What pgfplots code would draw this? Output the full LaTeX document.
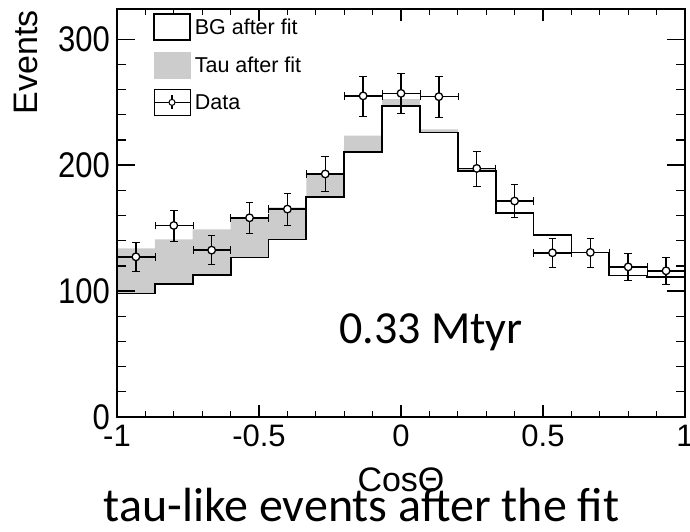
\documentclass[border=0pt]{standalone}
\usepackage{pgfplots}
\pgfplotsset{compat=1.18}
\usepackage{fontspec}
\setmainfont{Liberation Sans}
\newfontfamily\carlito{Carlito}
\definecolor{tauGray}{RGB}{204,204,204}
\begin{document}
\begin{tikzpicture}
\path[use as bounding box] (-117pt,-115pt) rectangle (573pt,417pt);
\begin{axis}[
  at={(0pt,0pt)}, anchor=south west,
  scale only axis, width=568pt, height=408pt,
  xmin=-1, xmax=1, ymin=0, ymax=324,
  axis on top,
  axis line style={line width=1.8pt},
  tick align=inside, tick pos=both,
  xtick={-1,-0.5,0,0.5,1}, xticklabels={-1,-0.5,0,0.5,1},
  ytick={0,100,200,300}, yticklabels={0,100,200,300},
  minor x tick num=4, minor y tick num=4,
  xtick style={line width=1.3pt, black, /pgfplots/major tick length=12pt, /pgfplots/minor tick length=6pt},
  ytick style={line width=1.3pt, black, /pgfplots/major tick length=18pt, /pgfplots/minor tick length=9pt},
  xticklabel style={font=\fontsize{31}{31}\selectfont, inner sep=0pt, yshift=-8pt},
  yticklabel style={font=\fontsize{31}{31}\selectfont, inner sep=0pt, xshift=-7pt, yscale=1.15},
  xlabel={CosΘ},
  xlabel style={at={(axis description cs:0.5,-0.1838)}, anchor=base, inner sep=0pt, font=\fontsize{34}{34}\selectfont},
  ylabel={Events},
  ylabel style={at={(axis description cs:-0.1396,0.9975)}, anchor=south east, inner sep=0pt, font=\fontsize{34}{34}\selectfont},
  title={tau-like events after the fit},
  title style={at={(axis description cs:0.4305,-0.2700)}, anchor=base, inner sep=0pt, font=\carlito\fontsize{48}{48}\selectfont},
  legend style={at={(axis description cs:0.0634,0.9902)}, anchor=north west, draw=none, fill=none, inner sep=0pt,
    font=\fontsize{21.5}{21.5}\selectfont, row sep=11pt, column sep=4pt, nodes={inner sep=0pt}, cells={anchor=west}},
]
% Tau after fit (stacked on BG): total
\addplot[const plot, fill=tauGray, draw=none, forget plot] coordinates {
  (-1,134) (-0.866667,141) (-0.733333,149) (-0.6,158.5) (-0.466667,166.5)
  (-0.333333,193) (-0.2,223.4) (-0.066667,252.5) (0.066667,228.4) (0.2,197.5)
  (0.333333,162.3) (0.466667,144.8) (0.6,131) (0.733333,112.7) (0.866667,111.6) (1,111.6)
} \closedcycle;
% BG after fit
\addplot[const plot, fill=white, draw=black, line width=1.8pt, forget plot] coordinates {
  (-1,98) (-0.866667,105.5) (-0.733333,112.6) (-0.6,126.7) (-0.466667,141)
  (-0.333333,174.4) (-0.2,210.7) (-0.066667,247) (0.066667,226) (0.2,195.5)
  (0.333333,161.7) (0.466667,144.4) (0.6,130.7) (0.733333,112.4) (0.866667,111.3) (1,111.3)
} \closedcycle;
% Data
\addplot[only marks, mark=*, mark size=3.8pt, mark options={fill=white, draw=black, line width=1.3pt}, forget plot,
  error bars/.cd, x dir=both, x explicit, y dir=both, y explicit,
  error bar style={line width=1.5pt, black}]
coordinates {
  (-0.933333,127.2) +- (0.066667,11.28)
  (-0.8,152.1) +- (0.066667,12.33)
  (-0.666667,132.5) +- (0.066667,11.51)
  (-0.533333,158.2) +- (0.066667,12.58)
  (-0.4,165.1) +- (0.066667,12.85)
  (-0.266667,193) +- (0.066667,13.89)
  (-0.133333,255) +- (0.066667,15.97)
  (0,257) +- (0.066667,16.03)
  (0.133333,254.4) +- (0.066667,15.95)
  (0.266667,197.4) +- (0.066667,14.05)
  (0.4,171.5) +- (0.066667,13.10)
  (0.533333,130.4) +- (0.066667,11.42)
  (0.666667,130.7) +- (0.066667,11.43)
  (0.8,119.2) +- (0.066667,10.92)
  (0.933333,116.1) +- (0.066667,10.78)
};
\addlegendimage{legend image code/.code={\draw[black,line width=1.6pt,fill=white] (0pt,-13pt) rectangle (36pt,13pt);}}
\addlegendentry{BG after fit}
\addlegendimage{legend image code/.code={\fill[tauGray] (0pt,-13pt) rectangle (36pt,13pt);}}
\addlegendentry{Tau after fit}
\addlegendimage{legend image code/.code={\path (0pt,-13pt) rectangle (36pt,13pt);
  \draw[black,line width=1.2pt] (0pt,0pt) -- (36pt,0pt);
  \draw[black,line width=1.2pt] (18pt,-7pt) -- (18pt,7pt);
  \draw[black,line width=1pt,fill=white] (18pt,0pt) circle (3pt);}}
\addlegendentry{Data}
\node[anchor=base west, inner sep=0pt, font=\carlito\fontsize{46}{46}\selectfont] at (axis description cs:0.3908,0.1806) {0.33 Mtyr};
\end{axis}
\end{tikzpicture}
\end{document}
